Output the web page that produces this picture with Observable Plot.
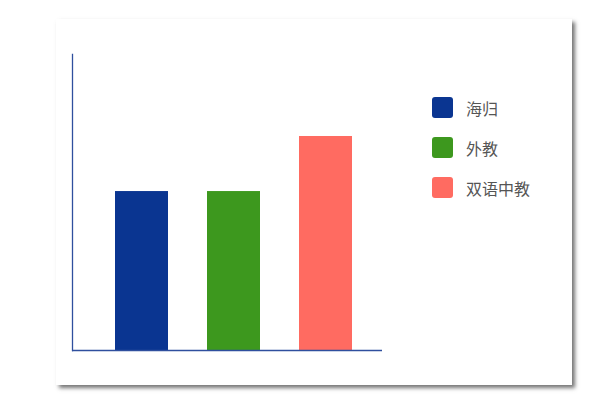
<!DOCTYPE html>
<html>
<head>
<meta charset="utf-8">
<script src="https://cdn.jsdelivr.net/npm/d3@7"></script>
<script src="https://cdn.jsdelivr.net/npm/@observablehq/plot@0.6"></script>
<style>
  html, body { margin: 0; padding: 0; background: #fff; }
  #card {
    position: absolute; left: 56px; top: 19px; width: 516px; height: 366px;
    background: #fff; box-shadow: 3px 3px 4px rgba(0,0,0,0.55);
    font-family: "Noto Sans CJK SC", sans-serif;
  }
  #chart { position: absolute; left: 0; top: 0; }
  #legend { position: absolute; left: 376px; top: 78px; }
  .item { display: flex; align-items: center; height: 21px; margin-bottom: 19px; }
  .sw { width: 21px; height: 21px; border-radius: 3px; margin-right: 13px; }
  .lab { font-size: 16px; color: #555; }
</style>
</head>
<body>
<div id="card">
  <div id="chart"></div>
  <div id="legend"></div>
</div>
<script>
const categories = ["海归", "外教", "双语中教"];
const values = [53.7, 53.7, 72.3];
const colors = ["#0a3591", "#3d981e", "#ff6b61"];
const yMax = 100;

const data = categories.map((c, i) => ({category: c, value: values[i]}));
const axisColor = "#2f4f9e";

const plot = Plot.plot({
  width: 340,
  height: 366,
  marginLeft: 16,
  marginRight: 14,
  marginTop: 35,
  marginBottom: 35,
  x: {domain: categories, paddingInner: 0.425, paddingOuter: 0.384, align: 0.595, axis: null},
  y: {domain: [0, yMax], axis: null},
  color: {domain: categories, range: colors},
  marks: [
    Plot.barY(data, {x: "category", y: "value", fill: "category"}),
    Plot.frame({anchor: "left", stroke: axisColor, strokeWidth: 1.3}),
    Plot.ruleY([0], {stroke: axisColor, strokeWidth: 1.3})
  ]
});
document.getElementById("chart").appendChild(plot);

const legend = document.getElementById("legend");
categories.forEach((c, i) => {
  const item = document.createElement("div");
  item.className = "item";
  const sw = document.createElement("div");
  sw.className = "sw";
  sw.style.background = colors[i];
  const lab = document.createElement("span");
  lab.className = "lab";
  lab.textContent = c;
  item.appendChild(sw);
  item.appendChild(lab);
  legend.appendChild(item);
});
</script>
</body>
</html>
